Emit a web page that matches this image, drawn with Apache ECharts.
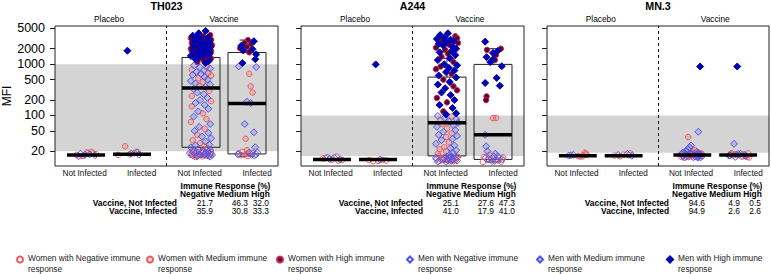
<!DOCTYPE html>
<html><head><meta charset="utf-8">
<script src="https://cdn.jsdelivr.net/npm/echarts@6/dist/echarts.min.js"></script>
<style>html,body{margin:0;padding:0;background:#fff}#c{width:771px;height:274px}</style>
</head><body><div id="c"></div>
<script>
// ---------------- DATA ----------------
const panelNames = ['TH023', 'A244', 'MN.3'];
const armNames = ['Placebo', 'Vaccine'];
const armPos = [1.5, 4.0];
const groupNames = ['Not Infected', 'Infected', 'Not Infected', 'Infected'];
const groupPos = [1, 2, 3.5, 4.5];
const groupLabelPos = [0.97, 2.21, 3.47, 4.72];
const yTicks = [20, 50, 100, 200, 500, 1000, 2000, 5000];
const bandLow = [20, 16.2, 18.8];
const bandHigh = [1000, 100, 100];
const classNames = [
  'Women with Negative immune response', 'Women with Medium immune response', 'Women with High immune response',
  'Men with Negative immune response', 'Men with Medium immune response', 'Men with High immune response'
];
const tableTitle = 'Immune Response (%)';
const tableCols = 'Negative Medium High';
const tableRows = ['Vaccine, Not Infected', 'Vaccine, Infected'];
const pctTH023 = [[21.7, 46.3, 32.0], [35.9, 30.8, 33.3]];
const pctA244 = [[25.1, 27.6, 47.3], [41.0, 17.9, 41.0]];
const pctMN3 = [[94.6, 4.9, 0.5], [94.9, 2.6, 2.6]];
// box stats per group: [min, q1, median, q3, max]
const boxTH023 = [[17,17,17,17,17],[17.5,17.5,17.5,17.5,17.5],[15.5,24,345,1350,3300],[16,17.8,171,1690,2950]];
const boxA244 = [[13.8,13.8,13.8,13.8,13.8],[13.8,13.8,13.8,13.8,13.8],[12.4,16.3,72,560,1300],[12.4,13.9,42,990,2000]];
const boxMN3 = [[16.4,16.4,16.4,16.4,16.4],[16.4,16.4,16.4,16.4,16.4],[17,17,17,17,17],[17,17,17,17,17]];
// points: [value, jitter, sex (0 women, 1 men)]
const th023_pNI = [[17,-0.2,0],[18,-0.12,1],[16.5,-0.05,0],[19,0.02,0],[17.5,0.08,1],[18,0.15,0],[16.8,0.2,1],[16,-0.16,1],[19.5,0.12,0],[17.2,-0.02,1],[17.8,0.22,0],[18.5,0.05,0],[16.3,-0.09,0]];
const th023_pInf = [[17,-0.3,0],[25,-0.15,0],[17.5,-0.05,0],[18.5,0.05,0],[19.5,0.1,0],[18,-0.02,1],[19,0.12,1],[17.2,0.15,1],[1830,-0.1,1]];
const th023_vNI = [
[4450,0.1,1],[4000,-0.05,1],[3700,0.2,0],[3600,-0.18,1],[3500,0.05,0],[3400,-0.1,1],[3300,0.15,1],[3200,-0.22,0],[3100,0.0,1],[3000,0.22,0],[2900,-0.14,1],[2800,0.08,0],[2750,-0.02,1],[2700,0.18,1],[2600,-0.2,0],[2500,0.12,1],[2450,-0.08,0],[2400,0.03,1],[2350,0.24,0],[2300,-0.16,1],[2200,0.1,0],[2150,-0.04,1],[2100,0.2,1],[2000,-0.22,0],[1950,0.06,1],[1900,-0.12,0],[1900,0.16,1],[1850,-0.02,1],[1800,0.22,0],[1750,-0.18,1],[1700,0.1,0],[1650,-0.07,1],[1600,0.02,0],[1600,0.19,1],[1550,-0.14,0],[1500,0.08,1],[1450,-0.22,1],[1400,0.14,0],[1350,-0.04,1],[1300,0.22,0],[1250,-0.12,1],[1200,0.05,0],[1150,0.17,1],[1100,-0.08,0],[1050,0.1,1],
[950,-0.15,1],[900,0.12,0],[870,-0.02,1],[820,0.2,1],[780,-0.2,0],[750,0.06,1],[700,-0.1,1],[680,0.16,0],[650,0.0,1],[620,-0.18,1],[600,0.22,0],[560,0.08,1],[530,-0.06,0],[500,0.14,1],[470,-0.22,1],[450,0.04,0],[420,-0.12,1],[400,0.2,1],[380,-0.04,0],[360,0.1,1],[330,-0.16,1],[300,0.18,0],[280,-0.08,1],[260,0.06,1],[240,-0.2,0],[220,0.14,1],[200,-0.02,1],[190,0.22,0],[175,-0.12,1],[160,0.08,1],[150,-0.2,0],[135,0.16,1],[120,-0.06,1],[110,0.04,0],[95,-0.16,1],[85,0.12,0],[75,-0.22,0],[68,0.2,1],[60,-0.04,1],[55,0.08,0],[50,-0.14,1],[46,0.16,1],[42,-0.08,0],[39,0.02,1],[36,0.22,1],[33,-0.18,0],[31,0.1,1],[29,-0.02,0],[27,0.18,1],[26,-0.12,1],[25,0.06,0],[24,-0.22,1],[23,0.14,0],[22,-0.06,1],[21,0.2,1],
[19.8,-0.2,0],[19.5,0.05,1],[19.2,0.22,0],[19,-0.1,1],[18.8,0.14,0],[18.5,-0.24,1],[18.3,0.0,0],[18,0.18,1],[17.8,-0.14,0],[17.5,0.08,1],[17.3,-0.04,0],[17,0.24,1],[16.8,-0.18,1],[16.5,0.12,0],[16.2,-0.08,1],[16,0.04,0],[15.8,0.2,1],[15.5,-0.12,0],[19.6,0.16,1],[18.2,-0.2,0],[17.6,0.22,0],[16.9,-0.02,1],[19.1,-0.06,0],[18.6,0.1,1],[17.1,-0.22,0],[16.4,0.16,1],[15.9,-0.1,0],[18.9,0.02,1],[17.4,0.2,0],[19.4,-0.16,1]];
const th023_vInf = [
[2950,0.02,0],[2800,0.15,1],[2600,-0.05,0],[2450,0.08,0],[2300,-0.12,1],[2200,0.0,0],[2050,-0.15,0],[1950,0.12,1],[1850,-0.08,1],[1700,0.05,0],[1550,0.2,1],[1250,0.18,1],[1050,-0.1,1],
[900,-0.18,1],[880,0.2,1],[650,0.05,0],[370,0.08,0],[280,0.12,0],[185,0.0,1],[175,0.08,1],[68,-0.05,1],[47,0.15,1],[35,-0.03,0],[24,0.18,1],[21,0.0,0],
[19.5,-0.1,0],[19,0.05,1],[18.5,0.12,0],[18,-0.18,1],[17.8,0.0,0],[17.5,0.2,1],[17.2,-0.06,0],[17,0.1,1],[16.8,-0.14,0],[16.5,0.16,1],[18.2,0.06,0],[17.6,-0.2,1],[16.2,0.02,0],[19.2,0.22,1]];
const a244_pNI = [[14.5,-0.2,0],[15.2,-0.1,1],[13.8,0.0,0],[15.8,0.1,0],[14,0.18,1],[14.2,-0.05,1],[13.5,0.22,0],[15,0.05,1],[14.8,-0.15,0],[13.2,0.14,0]];
const a244_pInf = [[13.5,-0.2,0],[12.8,-0.1,0],[13,0.0,0],[13.6,0.1,0],[13.2,0.18,0],[13.8,0.05,1],[990,-0.05,1]];
const a244_vNI = [
[4000,0.02,1],[3700,-0.15,1],[3500,0.18,0],[3300,-0.05,1],[3200,0.22,0],[3100,-0.22,1],[3000,0.08,1],[2900,-0.1,0],[2800,0.15,1],[2700,-0.02,1],[2600,0.24,0],[2500,-0.18,1],[2400,0.05,0],[2300,-0.08,1],[2200,0.12,1],[2100,-0.24,0],[2000,0.2,1],[1900,-0.04,0],[1800,0.1,1],[1700,-0.16,1],[1600,0.02,0],[1500,0.18,1],[1400,-0.12,0],[1300,0.06,1],[1200,-0.2,1],[1100,0.14,0],[1000,-0.06,1],[950,0.22,1],[900,-0.14,0],[850,0.04,1],[800,-0.24,0],[750,0.16,1],[700,-0.02,1],[650,0.1,0],[600,-0.18,1],[550,0.2,1],[500,-0.08,0],[450,0.06,1],[400,-0.2,1],[370,0.14,0],[340,-0.04,1],[310,0.22,0],[280,-0.12,1],[250,0.08,1],[220,-0.22,0],[200,0.16,1],[180,0.0,0],[160,-0.16,1],[140,0.12,1],[120,-0.08,0],[110,0.2,1],[105,-0.02,1],
[98,-0.2,1],[95,0.1,0],[90,-0.05,1],[85,0.2,1],[80,-0.15,0],[76,0.05,1],[72,0.24,1],[68,-0.1,0],[64,0.14,1],[60,-0.22,1],[56,0.0,0],[52,0.18,1],[48,-0.08,1],[45,0.1,0],[42,-0.18,1],[40,0.22,1],[38,-0.02,0],[35,0.12,1],[33,-0.12,1],[30,0.04,0],[28,-0.24,1],[26,0.16,1],[24,-0.06,0],[23,0.08,1],[22,-0.16,0],[21,0.2,1],[20,-0.02,0],[19,0.12,1],[18,-0.2,0],[17,0.06,1],
[16,-0.18,0],[15.8,0.1,1],[15.5,-0.04,0],[15.2,0.2,1],[15,-0.12,0],[14.8,0.04,1],[14.5,0.16,0],[14.2,-0.22,1],[14,0.0,0],[13.8,0.12,1],[13.5,-0.08,0],[13.2,0.22,1],[13,-0.16,0],[12.8,0.06,0],[12.5,-0.02,1],[15.6,0.24,0],[14.6,-0.06,1],[13.6,0.18,0],[12.6,-0.2,1],[15.3,0.08,0],[14.3,-0.14,0],[13.3,0.02,1],[12.9,0.14,0],[14.9,-0.24,1],[13.9,0.2,0],[15.9,0.0,1],[14.1,-0.1,0],[13.1,0.1,1]];
const a244_vInf = [
[2750,-0.17,1],[1900,-0.13,0],[2000,0.17,0],[1650,0.0,1],[1370,-0.14,1],[1250,0.0,1],[1200,0.04,0],[1500,0.06,0],[910,0.19,1],[540,0.08,1],[430,-0.17,1],[380,0.15,1],[235,-0.14,0],[200,-0.15,0],[1800,0.1,1],[1100,-0.06,1],
[89,0.0,0],[89,0.07,0],[42,-0.17,1],[25,-0.15,1],[20,-0.12,1],[18,0.05,1],[17,-0.08,0],
[16,0.1,1],[15.5,-0.2,0],[15,0.14,1],[14.5,-0.05,0],[14,0.2,1],[13.5,-0.12,0],[13,0.04,1],[12.6,0.18,0],[14.8,-0.16,1],[13.8,0.08,0],[12.9,-0.02,1],[15.2,0.22,0],[14.2,-0.1,1],[13.2,0.12,0],[12.4,-0.22,0],[15.8,0.02,1]];
const mn3_pNI = [[16.5,-0.2,1],[17,-0.1,1],[18,0.18,0],[16,0.1,0],[15.8,0.05,0],[16.8,-0.15,1],[16.2,0.0,0],[17.2,0.2,0],[16.6,0.12,0],[18.8,0.15,0]];
const mn3_pInf = [[16.5,-0.2,0],[17.2,0.0,0],[16,-0.08,0],[16.8,0.12,0],[17.8,0.08,1],[16.4,0.18,1],[17,-0.12,1],[18.2,0.15,0]];
const mn3_vNI = [
[900,0.17,1],
[48,0.13,1],[38,-0.09,0],[26,-0.03,1],[24,-0.06,1],[22,-0.1,1],[21,0.05,0],[20,-0.14,1],[19.5,0.1,1],[19.2,0.0,0],[19,-0.2,1],
[18.5,-0.22,1],[18.2,0.1,0],[18,-0.05,1],[17.8,0.2,0],[17.5,-0.15,1],[17.2,0.04,0],[17,0.15,1],[16.8,-0.1,0],[16.5,0.22,0],[16.2,-0.2,1],[16,0.0,0],[15.8,0.12,1],[15.5,-0.08,0],[15.2,0.18,1],[15,-0.18,0],[18.6,0.06,0],[17.6,-0.02,1],[16.6,0.08,1],[15.6,-0.24,0],[17.9,0.16,1],[16.9,-0.12,0],[15.9,0.2,0],[17.3,-0.16,1],[16.3,0.14,0],[15.3,0.02,1],[18.3,-0.06,0],[17.1,0.1,1],[16.1,-0.2,1],[15.4,0.08,0],[17.7,0.0,0],[16.7,0.18,1],[15.7,-0.14,1],[18.1,0.2,0],[16.4,-0.04,0],[15.1,0.12,1],[17.4,-0.22,0],[16.0,0.06,1],[18.4,0.14,1],[15.9,-0.1,0],[17.0,-0.02,0]];
const mn3_vInf = [
[900,-0.02,1],[28,-0.09,1],
[18.5,-0.15,0],[18,0.05,1],[17.5,-0.08,0],[17,0.15,1],[16.5,-0.2,1],[16,0.1,0],[15.5,0.2,0],[17.8,0.0,1],[16.8,-0.12,0],[16.2,0.18,0],[17.2,-0.04,1],[15.8,0.08,0],[18.2,0.22,0],[16.6,-0.18,1],[17.4,0.12,0],[15.6,-0.06,1],[16.9,0.02,0],[17.6,-0.16,0],[16.3,0.16,1],[15.2,0.24,0]];

// ---------------- BUILD ----------------
const pointSets = [[th023_pNI, th023_pInf, th023_vNI, th023_vInf], [a244_pNI, a244_pInf, a244_vNI, a244_vInf], [mn3_pNI, mn3_pInf, mn3_vNI, mn3_vInf]];
const boxSets = [boxTH023, boxA244, boxMN3];
const pctSets = [pctTH023, pctA244, pctMN3];

const FONT = '"Liberation Sans", Arial, sans-serif';
const L = Math.log10;
const gridLeft = [55, 301, 547];
const gridW = [223, 223, 222];
const gridTop = 26, gridH = 140;
const xMin = 1 - 31 / 46, xMax = xMin + 223 / 46;
const yMin = 1.015, yMax = 3.744;
const boxHalf = 0.413, capHalf = 0.16;

const RED = '#ee5a5e', BLUE = '#5454ea';
const classStyle = [
  {symbol: 'circle', size: 5.5, color: 'rgba(0,0,0,0)', border: RED},
  {symbol: 'circle', size: 5.5, color: 'rgba(238,90,94,0.22)', border: RED},
  {symbol: 'circle', size: 5.5, color: '#5c0033', border: '#c8285a'},
  {symbol: 'diamond', size: 7, color: 'rgba(0,0,0,0)', border: BLUE},
  {symbol: 'diamond', size: 7, color: 'rgba(84,84,234,0.22)', border: BLUE},
  {symbol: 'diamond', size: 7, color: '#0000b2', border: '#0000b2'}
];

const grids = [], xAxes = [], yAxes = [], series = [];
const tickLogs = yTicks.map(L);

panelNames.forEach((pn, i) => {
  grids.push({left: gridLeft[i], top: gridTop, width: gridW[i], height: gridH, show: true,
    borderColor: '#222', borderWidth: 1, backgroundColor: 'rgba(0,0,0,0)', z: 10});
  xAxes.push({type: 'value', gridIndex: i, min: xMin, max: xMax,
    axisLine: {show: false}, axisTick: {show: false}, splitLine: {show: false},
    axisLabel: {customValues: groupLabelPos, margin: 3, fontSize: 8.2, color: '#111', fontFamily: FONT,
      formatter: v => groupNames[groupLabelPos.findIndex(p => Math.abs(p - v) < 1e-6)] || ''}});
  yAxes.push({type: 'value', gridIndex: i, min: yMin, max: yMax,
    axisLine: {show: false}, splitLine: {show: false},
    axisTick: {show: true, length: 5, customValues: tickLogs, lineStyle: {color: '#222', width: 1}},
    axisLabel: {show: i === 0, customValues: tickLogs, margin: 10, fontSize: 12.5, color: '#000', fontFamily: FONT,
      formatter: v => String(Math.round(Math.pow(10, v)))},
    name: i === 0 ? 'MFI' : '', nameLocation: 'middle', nameGap: 30, nameRotate: 90,
    nameTextStyle: {fontSize: 12, color: '#000', fontFamily: FONT}});

  // band + dashed separator
  series.push({type: 'line', xAxisIndex: i, yAxisIndex: i, data: [], z: 1, silent: true,
    markArea: {silent: true, itemStyle: {color: '#d4d4d4', opacity: 1}, label: {show: false},
      data: [[{yAxis: L(bandLow[i])}, {yAxis: L(bandHigh[i])}]]},
    markLine: {silent: true, symbol: ['none', 'none'], label: {show: false},
      lineStyle: {type: [3, 3], color: '#111', width: 1},
      data: [{xAxis: (groupPos[1] + groupPos[2]) / 2}]}});

  const boxData = boxSets[i].map((b, g) => [groupPos[g], L(b[0]), L(b[1]), L(b[2]), L(b[3]), L(b[4])]);
  series.push({type: 'custom', xAxisIndex: i, yAxisIndex: i, z: 2, silent: true, data: boxData,
    encode: {x: 0, y: [1, 2, 3, 4, 5]},
    renderItem: (params, api) => {
      const x = api.value(0);
      const pmin = api.coord([x, api.value(1)]), pq1 = api.coord([x, api.value(2)]);
      const pq3 = api.coord([x, api.value(4)]), pmax = api.coord([x, api.value(5)]);
      const hw = api.size([boxHalf, 0])[0], cw = api.size([capHalf, 0])[0];
      const cx = pq1[0];
      const ch = [];
      const ln = {stroke: '#222', lineWidth: 1};
      if (pq1[1] - pq3[1] > 0.5) ch.push({type: 'rect', shape: {x: cx - hw, y: pq3[1], width: 2 * hw, height: pq1[1] - pq3[1]}, style: {stroke: '#222', lineWidth: 1, fill: 'rgba(0,0,0,0)'}});
      if (pq3[1] - pmax[1] > 0.5) {
        ch.push({type: 'line', shape: {x1: cx, y1: pq3[1], x2: cx, y2: pmax[1]}, style: Object.assign({lineDash: [3, 2]}, ln)});
        ch.push({type: 'line', shape: {x1: cx - cw, y1: pmax[1], x2: cx + cw, y2: pmax[1]}, style: ln});
      }
      if (pmin[1] - pq1[1] > 0.5) {
        ch.push({type: 'line', shape: {x1: cx, y1: pq1[1], x2: cx, y2: pmin[1]}, style: Object.assign({lineDash: [3, 2]}, ln)});
        ch.push({type: 'line', shape: {x1: cx - cw, y1: pmin[1], x2: cx + cw, y2: pmin[1]}, style: ln});
      }
      return {type: 'group', children: ch};
    }});

  // points by class
  const byClass = [[], [], [], [], [], []];
  pointSets[i].forEach((pts, g) => pts.forEach(p => {
    const v = p[0];
    const resp = v < bandLow[i] ? 0 : (v > bandHigh[i] ? 2 : 1);
    byClass[p[2] * 3 + resp].push([groupPos[g] + p[1], L(v)]);
  }));
  byClass.forEach((d, c) => {
    const s = classStyle[c];
    series.push({type: 'scatter', name: classNames[c], xAxisIndex: i, yAxisIndex: i, z: 3, data: d,
      symbol: s.symbol, symbolSize: s.size, silent: true,
      itemStyle: {color: s.color, borderColor: s.border, borderWidth: 1, opacity: 1}});
  });

  // medians on top
  series.push({type: 'custom', xAxisIndex: i, yAxisIndex: i, z: 4, silent: true,
    data: boxSets[i].map((b, g) => [groupPos[g], L(b[2])]),
    renderItem: (params, api) => {
      const p = api.coord([api.value(0), api.value(1)]);
      const hw = api.size([boxHalf, 0])[0];
      return {type: 'line', shape: {x1: p[0] - hw, y1: p[1], x2: p[0] + hw, y2: p[1]}, style: {stroke: '#000', lineWidth: 3.5}};
    }});
});

const option = {
  animation: false,
  backgroundColor: '#fff',
  grid: grids, xAxis: xAxes, yAxis: yAxes, series: series,
  legend: {data: classNames, left: 11, top: 249, width: 1000, itemWidth: 6, itemHeight: 6, itemGap: 0,
    selectedMode: false,
    formatter: name => { const k = name.lastIndexOf(' '); return '{a|' + name.slice(0, k) + '}\n{b|' + name.slice(k + 1) + '}'; },
    textStyle: {fontFamily: FONT, fontSize: 8.3, color: '#222',
      rich: {a: {width: 118, lineHeight: 19, fontSize: 8.3, fontFamily: FONT, color: '#222'},
             b: {width: 118, lineHeight: 3, fontSize: 8.3, fontFamily: FONT, color: '#222'}}}}
};

const chart = echarts.init(document.getElementById('c'), null, {renderer: 'svg'});
chart.setOption(option);

// text annotations positioned from the axes
const gfx = [];
const txt = (x, y, text, font, align) => gfx.push({type: 'text', x: x, y: y, silent: true,
  style: {text: text, font: font, fill: '#000', align: align, textAlign: align, verticalAlign: 'middle', textVerticalAlign: 'middle'}});
const BOLD = 'bold 8.4px ' + FONT, NORM = '8.4px ' + FONT;
panelNames.forEach((pn, i) => {
  const pl = chart.convertToPixel({gridIndex: i}, [xMin, yMin]);
  const pr = chart.convertToPixel({gridIndex: i}, [xMax, yMin]);
  txt((pl[0] + pr[0]) / 2, 5.5, pn, 'bold 10.7px ' + FONT, 'center');
  armNames.forEach((a, j) => {
    const p = chart.convertToPixel({gridIndex: i}, [armPos[j], yMin]);
    txt(p[0], 19, a, '8.3px ' + FONT, 'center');
  });
  const x0 = pl[0];
  txt(x0 + 170.5, 185.5, tableTitle, BOLD, 'center');
  txt(x0 + 125, 194, tableCols, BOLD, 'left');
  tableRows.forEach((r, k) => {
    const y = 202.5 + k * 8.5;
    txt(x0 + 122, y, r, BOLD, 'right');
    const colRight = [158, 193, 214];
    pctSets[i][k].forEach((v, c) => txt(x0 + colRight[c], y, v.toFixed(1), NORM, 'right'));
  });
});
chart.setOption({graphic: {elements: gfx}});
</script></body></html>
